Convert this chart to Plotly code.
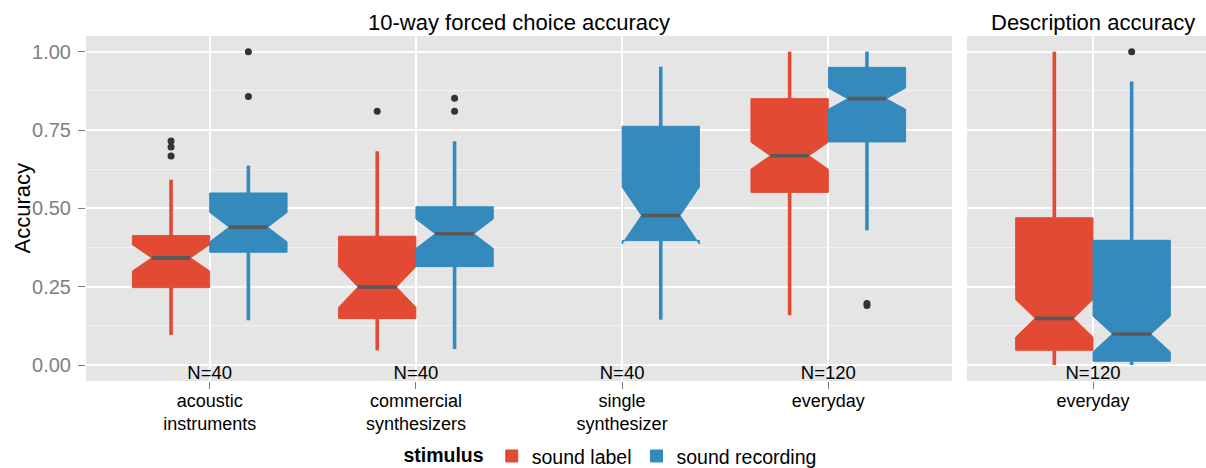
import plotly.graph_objects as go

# ---- categories and tick labels -------------------------------------------
categories = ["acoustic instruments", "commercial synthesizers", "single synthesizer", "everyday"]
tick_labels = ["acoustic<br>instruments", "commercial<br>synthesizers", "single<br>synthesizer", "everyday"]
n_forced = ["N=40", "N=40", "N=40", "N=120"]
n_desc = ["N=120"]
desc_categories = ["everyday"]

# ---- 10-way forced choice: sound label (no single-synthesizer condition) ----
label_q1 = [0.247, 0.148, None, 0.551]
label_med = [0.342, 0.249, None, 0.668]
label_q3 = [0.413, 0.411, None, 0.850]
label_lo = [0.096, 0.047, None, 0.159]
label_hi = [0.591, 0.682, None, 1.000]
label_notch = [0.042, 0.065, None, 0.043]
label_out = [[0.715, 0.696, 0.667], [0.810], [], []]

# ---- 10-way forced choice: sound recording ----------------------------------
rec_q1 = [0.360, 0.314, 0.397, 0.712]
rec_med = [0.440, 0.419, 0.477, 0.850]
rec_q3 = [0.549, 0.505, 0.762, 0.950]
rec_lo = [0.143, 0.051, 0.145, 0.430]
rec_hi = [0.636, 0.714, 0.952, 1.000]
rec_notch = [0.047, 0.047, 0.091, 0.034]
rec_out = [[1.000, 0.857], [0.851, 0.810], [], [0.196, 0.190]]

# ---- description accuracy ----------------------------------------------------
desc_label_q1 = [0.047]
desc_label_med = [0.149]
desc_label_q3 = [0.470]
desc_label_lo = [0.000]
desc_label_hi = [1.000]
desc_label_notch = [0.060]
desc_label_out = [[]]

desc_rec_q1 = [0.012]
desc_rec_med = [0.099]
desc_rec_q3 = [0.398]
desc_rec_lo = [0.000]
desc_rec_hi = [0.905]
desc_rec_notch = [0.057]
desc_rec_out = [[1.000]]

# ---- styling ------------------------------------------------------------------
RED = "#E24A33"
BLUE = "#348ABD"
MEDIAN = "#595959"
OUTLIER = "#333333"
FONT = "Liberation Sans, Arial, Helvetica, sans-serif"
BOX_W = 0.375      # each box width (dodge width 0.75 split in two)
NOTCH_IN = 0.25    # plotly notchwidth: indent per side as a fraction of box width
WAIST = 1 - 2 * NOTCH_IN  # remaining waist width relative to the box

fig = go.Figure()
scatter_traces = []


def add_series(name, color, q1, med, q3, lo, hi, notch, outl, offset, xa, ya, show):
    idx = [i for i, v in enumerate(med) if v is not None]
    xs = [i + 1 + offset for i in idx]
    fig.add_trace(go.Box(
        name=name, legendgroup=name, showlegend=show,
        x=xs,
        q1=[q1[i] for i in idx], median=[med[i] for i in idx], q3=[q3[i] for i in idx],
        lowerfence=[lo[i] for i in idx], upperfence=[hi[i] for i in idx],
        notchspan=[notch[i] for i in idx], notched=True, notchwidth=NOTCH_IN,
        width=BOX_W, whiskerwidth=0,
        fillcolor=color, line=dict(color=color, width=1),
        boxpoints=False, xaxis=xa, yaxis=ya, hoverinfo="skip",
    ))
    # whiskers
    wx, wy = [], []
    for i, x in zip(idx, xs):
        wx += [x, x, None, x, x, None]
        wy += [lo[i], q1[i], None, q3[i], hi[i], None]
    scatter_traces.append(go.Scatter(
        x=wx, y=wy, mode="lines", line=dict(color=color, width=3.6),
        showlegend=False, legendgroup=name, xaxis=xa, yaxis=ya, hoverinfo="skip"))
    # median bars across the notch waist
    mx, my = [], []
    half = BOX_W / 2 * WAIST
    for i, x in zip(idx, xs):
        mx += [x - half, x + half, None]
        my += [med[i], med[i], None]
    scatter_traces.append(go.Scatter(
        x=mx, y=my, mode="lines", line=dict(color=MEDIAN, width=3.6),
        showlegend=False, legendgroup=name, xaxis=xa, yaxis=ya, hoverinfo="skip"))
    # outliers
    ox, oy = [], []
    for i, x in zip(idx, xs):
        for v in outl[i]:
            ox.append(x)
            oy.append(v)
    scatter_traces.append(go.Scatter(
        x=ox, y=oy, mode="markers", marker=dict(color=OUTLIER, size=7),
        showlegend=False, legendgroup=name, xaxis=xa, yaxis=ya, hoverinfo="skip"))


add_series("sound label", RED, label_q1, label_med, label_q3, label_lo, label_hi,
           label_notch, label_out, -BOX_W / 2, "x", "y", True)
add_series("sound recording", BLUE, rec_q1, rec_med, rec_q3, rec_lo, rec_hi,
           rec_notch, rec_out, BOX_W / 2, "x", "y", True)
add_series("sound label", RED, desc_label_q1, desc_label_med, desc_label_q3,
           desc_label_lo, desc_label_hi, desc_label_notch, desc_label_out,
           -BOX_W / 2, "x2", "y2", False)
add_series("sound recording", BLUE, desc_rec_q1, desc_rec_med, desc_rec_q3,
           desc_rec_lo, desc_rec_hi, desc_rec_notch, desc_rec_out,
           BOX_W / 2, "x2", "y2", False)

for tr in scatter_traces:
    fig.add_trace(tr)

# sample-size labels along the bottom of each panel
fig.add_trace(go.Scatter(
    x=list(range(1, len(n_forced) + 1)), y=[-0.03] * len(n_forced), text=n_forced,
    mode="text", textfont=dict(size=18.5, color="black", family=FONT),
    showlegend=False, xaxis="x", yaxis="y", hoverinfo="skip"))
fig.add_trace(go.Scatter(
    x=list(range(1, len(n_desc) + 1)), y=[-0.03] * len(n_desc), text=n_desc,
    mode="text", textfont=dict(size=18.5, color="black", family=FONT),
    showlegend=False, xaxis="x2", yaxis="y2", hoverinfo="skip"))

W, H = 1206, 468
L_PANEL = (86 / W, 952 / W)
R_PANEL = (967 / W, 1.0)
y_range = [-0.051, 1.05]
y_ticks = [0, 0.25, 0.5, 0.75, 1.0]
y_minor = [0.125, 0.375, 0.625, 0.875]

common_x = dict(showgrid=True, gridcolor="white", gridwidth=2, zeroline=False,
                ticks="outside", ticklen=7, tickwidth=1, tickcolor="#7F7F7F",
                ticklabelstandoff=-4,
                tickfont=dict(size=18, color="black", family=FONT), showline=False,
                automargin=False)
common_y = dict(range=y_range, tickvals=y_ticks, showgrid=True, gridcolor="white",
                gridwidth=2, zeroline=False, showline=False, automargin=False,
                minor=dict(tickvals=y_minor, showgrid=True, gridcolor="#F2F2F2",
                           gridwidth=1, ticks=""))

fig.update_layout(
    width=W, height=H,
    margin=dict(l=0, r=0, t=36, b=87, autoexpand=False),
    paper_bgcolor="white", plot_bgcolor="#E5E5E5",
    boxmode="overlay",
    font=dict(family=FONT, size=18, color="black"),
    xaxis=dict(domain=L_PANEL, range=[0.4, 4.6], tickvals=[1, 2, 3, 4],
               ticktext=tick_labels, anchor="y", **common_x),
    xaxis2=dict(domain=R_PANEL, range=[0.389, 1.548], tickvals=[1],
                ticktext=desc_categories, anchor="y2", **common_x),
    yaxis=dict(domain=[0, 1], anchor="x", ticks="outside", ticklen=7, tickwidth=1,
               tickcolor="#7F7F7F", ticktext=["0.00", "0.25", "0.50", "0.75", "1.00"],
               ticklabelstandoff=3,
               tickfont=dict(size=20, color="#7F7F7F", family=FONT), **common_y),
    yaxis2=dict(domain=[0, 1], anchor="x2", showticklabels=False, ticks="", **common_y),
    legend=dict(orientation="h", xref="container", yref="container",
                x=0.507, y=0.025, xanchor="center", yanchor="middle",
                title=dict(text="<b>stimulus</b>", font=dict(size=19.5, family=FONT)),
                font=dict(size=19.5, family=FONT), bgcolor="rgba(0,0,0,0)"),
    annotations=[
        dict(text="10-way forced choice accuracy", xref="paper", yref="paper",
             x=(L_PANEL[0] + L_PANEL[1]) / 2, y=1.038, xanchor="center",
             yanchor="middle", showarrow=False, font=dict(size=22, family=FONT)),
        dict(text="Description accuracy", xref="x2", yref="paper",
             x=1, y=1.038, xanchor="center", yanchor="middle", showarrow=False,
             font=dict(size=22, family=FONT)),
        dict(text="Accuracy", xref="paper", yref="paper", x=22 / W, y=0.5,
             xanchor="center", yanchor="middle", textangle=-90, showarrow=False,
             font=dict(size=22, family=FONT)),
    ],
)

fig.write_html("out.html")
